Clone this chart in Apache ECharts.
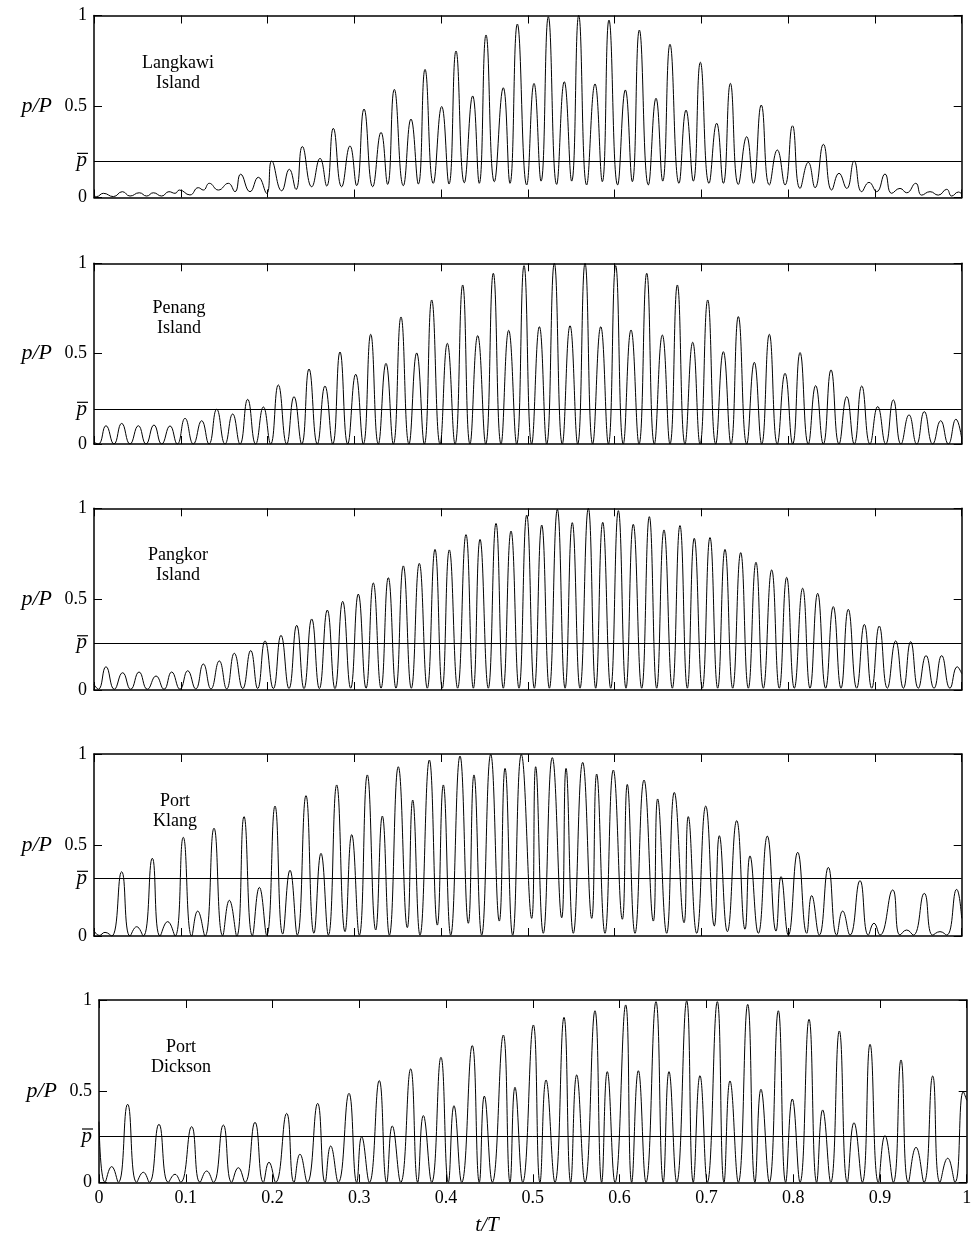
<!DOCTYPE html>
<html><head><meta charset="utf-8">
<script src="https://cdn.jsdelivr.net/npm/echarts@6/dist/echarts.min.js"></script>
<style>html,body{margin:0;padding:0;background:#fff}#c{width:977px;height:1245px}</style>
</head><body><div id="c"></div>
<script>
// ---------------- data (t/T, p/P) ----------------
const panelNames = ['Langkawi\nIsland', 'Penang\nIsland', 'Pangkor\nIsland', 'Port\nKlang', 'Port\nDickson'];
const pBar = [0.204, 0.192, 0.26, 0.317, 0.254];
const yTicks = [0, 0.5, 1];
const xTicks = [0, 0.1, 0.2, 0.3, 0.4, 0.5, 0.6, 0.7, 0.8, 0.9, 1];

const langkawi = [[0,0.01],[0.003,0.005],[0.0108,0.023],[0.0223,0.005],[0.0327,0.032],[0.0415,0.008],[0.0522,0.026],[0.0607,0.008],[0.0684,0.026],[0.078,0.008],[0.0864,0.032],[0.0934,0.023],[0.0984,0.041],[0.1106,0.014],[0.1202,0.054],[0.126,0.041],[0.1329,0.078],[0.1433,0.041],[0.1548,0.078],[0.1625,0.032],[0.169,0.128],[0.1798,0.032],[0.1894,0.111],[0.199,0.023],[0.2048,0.2],[0.2163,0.037],[0.2251,0.155],[0.2328,0.044],[0.2401,0.28],[0.2509,0.059],[0.2605,0.215],[0.2682,0.063],[0.2758,0.38],[0.2854,0.059],[0.295,0.283],[0.3027,0.065],[0.3112,0.486],[0.3212,0.059],[0.3308,0.358],[0.3384,0.072],[0.3461,0.594],[0.3565,0.065],[0.3653,0.431],[0.3738,0.074],[0.3815,0.704],[0.391,0.078],[0.4007,0.5],[0.4091,0.074],[0.4172,0.805],[0.4268,0.081],[0.4364,0.558],[0.444,0.078],[0.4518,0.893],[0.4614,0.087],[0.4717,0.603],[0.4794,0.078],[0.4879,0.953],[0.4987,0.069],[0.5071,0.627],[0.5152,0.09],[0.5236,0.993],[0.5332,0.072],[0.542,0.636],[0.5505,0.09],[0.5586,1.0],[0.5678,0.069],[0.5774,0.624],[0.5858,0.087],[0.5935,0.975],[0.6035,0.069],[0.6124,0.591],[0.6204,0.087],[0.6285,0.92],[0.6389,0.069],[0.6477,0.545],[0.6554,0.09],[0.6638,0.842],[0.6742,0.078],[0.6823,0.48],[0.6907,0.09],[0.6988,0.743],[0.7088,0.078],[0.7176,0.408],[0.7253,0.078],[0.7334,0.627],[0.7426,0.072],[0.7522,0.334],[0.7599,0.078],[0.769,0.508],[0.7783,0.069],[0.7875,0.261],[0.7964,0.069],[0.805,0.394],[0.8137,0.05],[0.8232,0.193],[0.831,0.054],[0.8406,0.292],[0.8502,0.041],[0.8586,0.133],[0.8675,0.05],[0.876,0.2],[0.8848,0.032],[0.8932,0.083],[0.902,0.032],[0.9116,0.129],[0.9193,0.023],[0.9289,0.05],[0.9366,0.026],[0.947,0.078],[0.9539,0.013],[0.9635,0.032],[0.973,0.013],[0.9827,0.045],[0.9885,0.008],[0.9962,0.03],[1,0.02]];

const penang = [[0,0.01],[0.005,0],[0.0138,0.101],[0.023,0],[0.0319,0.114],[0.0415,0],[0.0511,0.101],[0.0599,0],[0.0691,0.105],[0.078,0],[0.0876,0.1],[0.096,0],[0.1049,0.142],[0.1145,0],[0.1241,0.129],[0.1325,0],[0.1414,0.192],[0.151,0],[0.1598,0.166],[0.1683,0],[0.1771,0.247],[0.1863,0],[0.1952,0.205],[0.2036,0],[0.2124,0.327],[0.2221,0],[0.2305,0.262],[0.2394,0],[0.2478,0.415],[0.2574,0],[0.2662,0.321],[0.2751,0],[0.2835,0.509],[0.2924,0],[0.3016,0.386],[0.3104,0],[0.3189,0.607],[0.3277,0],[0.3365,0.446],[0.345,0],[0.3538,0.703],[0.363,0],[0.3719,0.504],[0.3807,0],[0.3892,0.797],[0.3988,0],[0.4072,0.557],[0.4161,0],[0.4249,0.88],[0.4333,0],[0.4422,0.6],[0.4514,0],[0.4602,0.945],[0.4691,0],[0.4779,0.629],[0.4871,0],[0.4956,0.987],[0.5044,0],[0.5133,0.649],[0.5217,0],[0.5305,1.0],[0.5397,0],[0.5486,0.655],[0.5574,0],[0.5659,1.0],[0.5747,0],[0.584,0.649],[0.5928,0],[0.6012,0.987],[0.61,0],[0.6189,0.631],[0.6281,0],[0.637,0.945],[0.6458,0],[0.655,0.603],[0.6638,0],[0.6723,0.88],[0.6811,0],[0.69,0.563],[0.6984,0],[0.7073,0.797],[0.7165,0],[0.7253,0.511],[0.7341,0],[0.7426,0.705],[0.7522,0],[0.761,0.452],[0.7695,0],[0.7783,0.607],[0.7875,0],[0.7964,0.391],[0.8052,0],[0.8137,0.506],[0.8232,0],[0.8317,0.323],[0.8405,0],[0.8494,0.41],[0.8586,0],[0.8675,0.262],[0.8762,0],[0.8848,0.321],[0.8943,0],[0.9032,0.207],[0.9124,0],[0.9212,0.244],[0.93,0],[0.9393,0.161],[0.9481,0],[0.9569,0.179],[0.9666,0],[0.9758,0.129],[0.9846,0],[0.9934,0.137],[1,0.03]];

const pangkor = [[0,0.03],[0.005,0.004],[0.0138,0.128],[0.0234,0.004],[0.033,0.095],[0.0423,0.004],[0.0519,0.099],[0.0615,0.004],[0.0715,0.077],[0.0807,0.004],[0.0895,0.099],[0.0991,0.004],[0.108,0.106],[0.1172,0.006],[0.126,0.143],[0.1348,0.006],[0.1444,0.16],[0.1529,0.006],[0.1617,0.202],[0.1714,0.008],[0.1806,0.217],[0.1886,0.008],[0.1971,0.27],[0.2067,0.008],[0.2155,0.301],[0.2247,0.008],[0.2336,0.356],[0.242,0.008],[0.2509,0.391],[0.2597,0.008],[0.2689,0.44],[0.2777,0.008],[0.2866,0.488],[0.2958,0.01],[0.3046,0.528],[0.3135,0.01],[0.3219,0.589],[0.3308,0.01],[0.3392,0.618],[0.348,0.01],[0.3565,0.683],[0.3657,0.01],[0.3749,0.697],[0.3841,0.01],[0.393,0.774],[0.4014,0.01],[0.4095,0.771],[0.4191,0.01],[0.4287,0.855],[0.4372,0.01],[0.4449,0.829],[0.4544,0.01],[0.4633,0.917],[0.4717,0.01],[0.4806,0.875],[0.4898,0.01],[0.4987,0.963],[0.5075,0.01],[0.516,0.908],[0.5248,0.01],[0.534,0.994],[0.5429,0.01],[0.5512,0.921],[0.5601,0.01],[0.5697,1.0],[0.5782,0.01],[0.5863,0.923],[0.5955,0.01],[0.6043,0.987],[0.6131,0.01],[0.6215,0.912],[0.6312,0.01],[0.64,0.954],[0.6485,0.01],[0.6569,0.881],[0.6665,0.01],[0.6753,0.905],[0.6838,0.01],[0.6918,0.835],[0.7011,0.01],[0.7099,0.839],[0.7188,0.01],[0.7272,0.774],[0.7361,0.01],[0.7453,0.756],[0.7541,0.01],[0.7629,0.703],[0.7714,0.01],[0.781,0.661],[0.7898,0.01],[0.7983,0.62],[0.8071,0.01],[0.8167,0.56],[0.8252,0.01],[0.834,0.532],[0.8432,0.01],[0.852,0.459],[0.8609,0.01],[0.8693,0.444],[0.879,0.01],[0.8878,0.361],[0.8963,0.01],[0.905,0.352],[0.9143,0.01],[0.9239,0.27],[0.9328,0.01],[0.9412,0.266],[0.95,0.01],[0.9589,0.189],[0.9681,0.01],[0.9769,0.189],[0.9865,0.01],[0.9949,0.128],[1,0.09]];

const klang = [[0,0.03],[0.006,0.003],[0.0127,0.02],[0.0204,0],[0.0319,0.353],[0.0415,0],[0.0492,0.051],[0.0568,0],[0.0672,0.427],[0.0761,0],[0.0849,0.079],[0.0934,0],[0.1029,0.542],[0.1126,0],[0.1195,0.137],[0.1279,0],[0.1383,0.592],[0.1483,0.002],[0.156,0.196],[0.1645,0],[0.1729,0.656],[0.1825,0.002],[0.1906,0.267],[0.199,0.005],[0.2086,0.714],[0.2175,0.011],[0.2259,0.361],[0.2343,0.005],[0.2443,0.771],[0.2535,0.015],[0.2616,0.454],[0.2701,0.005],[0.2797,0.83],[0.2893,0.024],[0.297,0.557],[0.3058,0.005],[0.315,0.885],[0.3247,0.033],[0.3323,0.659],[0.3404,0.005],[0.3507,0.93],[0.3611,0.046],[0.3673,0.747],[0.3757,0.005],[0.3865,0.967],[0.3957,0.06],[0.4026,0.83],[0.4111,0.005],[0.4218,0.989],[0.4314,0.07],[0.4379,0.885],[0.4468,0.005],[0.4572,0.998],[0.4671,0.082],[0.4737,0.921],[0.4825,0.005],[0.4925,0.997],[0.5044,0.097],[0.509,0.93],[0.5178,0.015],[0.5282,0.98],[0.539,0.1],[0.544,0.921],[0.5524,0.015],[0.5632,0.954],[0.5736,0.097],[0.5793,0.89],[0.5889,0.015],[0.5985,0.912],[0.6089,0.092],[0.6146,0.833],[0.6235,0.015],[0.6339,0.857],[0.6446,0.082],[0.6496,0.753],[0.66,0.015],[0.6688,0.789],[0.68,0.073],[0.6849,0.656],[0.6946,0.015],[0.705,0.714],[0.7149,0.055],[0.7207,0.551],[0.7299,0.024],[0.7407,0.634],[0.7503,0.037],[0.756,0.44],[0.7656,0.015],[0.776,0.549],[0.786,0.027],[0.7918,0.326],[0.8002,0.005],[0.811,0.46],[0.8214,0.015],[0.8271,0.222],[0.8359,0.005],[0.8463,0.377],[0.8559,0.005],[0.8628,0.137],[0.8713,0.005],[0.8828,0.304],[0.8924,0.005],[0.8989,0.07],[0.9058,0.005],[0.9205,0.253],[0.9289,0.005],[0.9366,0.033],[0.9442,0.005],[0.9569,0.234],[0.9666,0.005],[0.975,0.024],[0.9827,0.005],[0.9942,0.256],[1,0.097]];

const dickson = [[0,0.333],[0.0069,0],[0.0146,0.086],[0.0223,0],[0.033,0.428],[0.0434,0],[0.0511,0.055],[0.058,0],[0.0691,0.318],[0.0799,0],[0.0876,0.044],[0.0941,0],[0.1068,0.305],[0.1164,0],[0.1241,0.062],[0.1318,0],[0.1433,0.314],[0.1529,0],[0.1606,0.08],[0.1683,0],[0.1798,0.329],[0.1894,0],[0.1959,0.11],[0.2036,0],[0.2163,0.378],[0.2247,0],[0.2316,0.154],[0.2401,0],[0.252,0.433],[0.2605,0],[0.267,0.199],[0.2758,0],[0.2881,0.488],[0.297,0],[0.3027,0.25],[0.3116,0],[0.323,0.558],[0.3315,0],[0.338,0.309],[0.3477,0],[0.3592,0.622],[0.3673,0],[0.3738,0.366],[0.3834,0],[0.3941,0.686],[0.4026,0],[0.4091,0.42],[0.418,0],[0.4302,0.75],[0.4383,0],[0.4441,0.473],[0.4533,0],[0.466,0.808],[0.4737,0],[0.4794,0.521],[0.4883,0],[0.5006,0.863],[0.5082,0],[0.5152,0.561],[0.5255,0],[0.5359,0.905],[0.5436,0],[0.5505,0.589],[0.5601,0],[0.5716,0.941],[0.5793,0],[0.5858,0.607],[0.5947,0],[0.607,0.973],[0.6139,0],[0.6216,0.612],[0.6304,0],[0.6419,0.991],[0.6503,0],[0.6569,0.607],[0.6658,0],[0.6773,0.995],[0.6849,0],[0.6926,0.585],[0.7011,0],[0.7126,0.991],[0.7203,0],[0.7272,0.556],[0.7368,0],[0.7476,0.976],[0.756,0],[0.7629,0.51],[0.7725,0],[0.7829,0.941],[0.7914,0],[0.799,0.457],[0.8079,0],[0.8183,0.894],[0.8271,0],[0.834,0.397],[0.8433,0],[0.8532,0.83],[0.8624,0],[0.8701,0.327],[0.8797,0],[0.8886,0.757],[0.8982,0],[0.9058,0.256],[0.9154,0],[0.9243,0.671],[0.9327,0],[0.9416,0.192],[0.9508,0],[0.9608,0.583],[0.9692,0],[0.9781,0.132],[0.9865,0],[0.9961,0.497],[1,0.45]];

const panelData = [langkawi, penang, pangkor, klang, dickson];

// ---------------- layout ----------------
const FONT = '"Liberation Serif", "Times New Roman", serif';
const grids = [
  {left: 94, top: 15.5, width: 867.7, height: 182},
  {left: 94, top: 263.3, width: 867.7, height: 180.7},
  {left: 94, top: 508.3, width: 867.7, height: 181.7},
  {left: 94, top: 754, width: 867.7, height: 182},
  {left: 99, top: 1000, width: 867.7, height: 182.3}
];
const labelPos = [[178, 73], [179, 318.7], [178, 565], [175, 811], [181, 1057]];

const axisLine = {show: true, onZero: false, lineStyle: {color: '#000', width: 1.5}};
const tick = {show: true, inside: true, length: 8, lineStyle: {color: '#000', width: 1}};

const xAxis = [], yAxis = [], series = [], graphic = [];
grids.forEach((g, i) => {
  const last = i === grids.length - 1;
  xAxis.push({
    type: 'value', gridIndex: i, min: 0, max: 1, position: 'bottom',
    axisLine, axisTick: Object.assign({}, tick, {customValues: xTicks}),
    splitLine: {show: false},
    axisLabel: {show: last, customValues: xTicks, fontFamily: FONT, fontSize: 18, color: '#000', margin: 7}
  });
  xAxis.push({
    type: 'value', gridIndex: i, min: 0, max: 1, position: 'top',
    axisLine, axisTick: Object.assign({}, tick, {customValues: xTicks}),
    splitLine: {show: false}, axisLabel: {show: false}
  });
  const pb = pBar[i];
  yAxis.push({
    type: 'value', gridIndex: i, min: 0, max: 1, position: 'left',
    axisLine, axisTick: Object.assign({}, tick, {customValues: yTicks}),
    splitLine: {show: false},
    name: 'p/P', nameLocation: 'middle', nameRotate: 0, nameGap: 42,
    nameTextStyle: {fontFamily: FONT, fontSize: 22, fontStyle: 'italic', color: '#000'},
    axisLabel: {
      customValues: yTicks.concat([pb]), fontFamily: FONT, fontSize: 18, color: '#000', margin: 7,
      formatter: v => (Math.abs(v - pb) < 1e-9 ? '{p|p}' : String(v)),
      rich: {p: {fontFamily: FONT, fontSize: 21, fontStyle: 'italic', color: '#000'}}
    }
  });
  yAxis.push({
    type: 'value', gridIndex: i, min: 0, max: 1, position: 'right',
    axisLine, axisTick: Object.assign({}, tick, {customValues: yTicks}),
    splitLine: {show: false}, axisLabel: {show: false}
  });
  series.push({
    type: 'line', xAxisIndex: 2 * i, yAxisIndex: 2 * i, data: panelData[i],
    smooth: 0.5, symbol: 'none', silent: true, animation: false,
    lineStyle: {color: '#000', width: 1},
    markLine: {
      silent: true, symbol: 'none', animation: false,
      label: {show: false},
      lineStyle: {color: '#000', width: 1, type: 'solid'},
      data: [{yAxis: pb}]
    }
  });
  graphic.push({
    type: 'text', x: labelPos[i][0], y: labelPos[i][1], silent: true,
    style: {text: panelNames[i], fontFamily: FONT, fontSize: 18, lineHeight: 20,
      fill: '#000', align: 'center', verticalAlign: 'middle'}
  });
});
graphic.push({
  type: 'text', x: 487, y: 1225, silent: true,
  style: {text: 't/T', fontFamily: FONT, fontSize: 21, fontStyle: 'italic', fill: '#000', align: 'center', verticalAlign: 'middle'}
});

const chart = echarts.init(document.getElementById('c'), null, {renderer: 'canvas'});
chart.setOption({
  backgroundColor: '#fff',
  animation: false,
  grid: grids.map(g => Object.assign({containLabel: false}, g)),
  xAxis, yAxis, series
});
// overline of the p-bar label, placed from the axis scale
grids.forEach((g, i) => {
  const pt = chart.convertToPixel({gridIndex: i}, [0, pBar[i]]);
  graphic.push({
    type: 'line', silent: true,
    shape: {x1: pt[0] - 17, y1: pt[1] - 7, x2: pt[0] - 6, y2: pt[1] - 7},
    style: {stroke: '#000', lineWidth: 1.2}
  });
});
chart.setOption({graphic});
</script></body></html>
